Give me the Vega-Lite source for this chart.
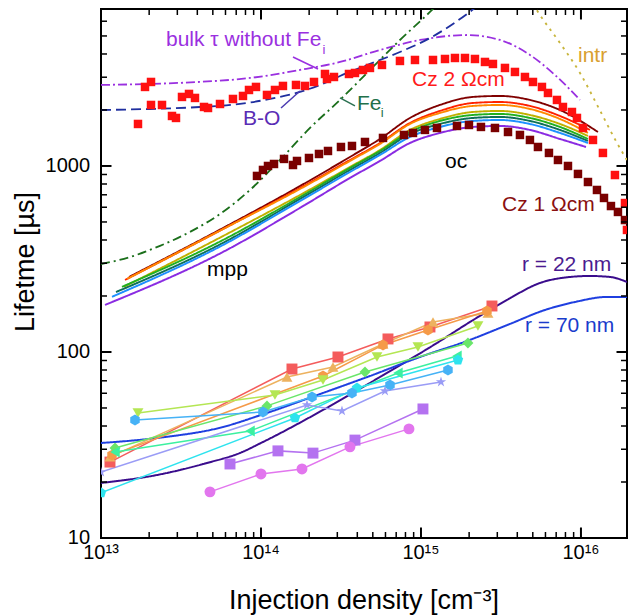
{
"$schema":"https://vega.github.io/schema/vega-lite/v6.json",
"width":526,"height":529,
"autosize":{"type":"none"},
"padding":{"left":101,"top":9,"right":1,"bottom":77},
"background":"white",
"config":{"view":{"stroke":"black","strokeWidth":2},"text":{"font":"Liberation Sans"}},
"datasets":{
"th":[
{"s":"bulk","x":1e13,"y":2726},{"s":"bulk","x":2.02e13,"y":2761},{"s":"bulk","x":4.15e13,"y":2831},{"s":"bulk","x":8.53e13,"y":2972},{"s":"bulk","x":1.75e14,"y":3281},{"s":"bulk","x":3.12e14,"y":3622},{"s":"bulk","x":5.54e14,"y":4203},{"s":"bulk","x":9.86e14,"y":4757},{"s":"bulk","x":1.94e15,"y":5058},{"s":"bulk","x":3.12e15,"y":4757},{"s":"bulk","x":4.8e15,"y":3953},{"s":"bulk","x":6.88e15,"y":3084},{"s":"bulk","x":9.86e15,"y":2265},
{"s":"BO","x":1e13,"y":2000},{"s":"BO","x":2.02e13,"y":2025},{"s":"BO","x":4.15e13,"y":2075},{"s":"BO","x":7.39e13,"y":2155},{"s":"BO","x":1.14e14,"y":2293},{"s":"BO","x":1.75e14,"y":2500},{"s":"BO","x":2.34e14,"y":2726},{"s":"BO","x":3.12e14,"y":3047},{"s":"BO","x":4.8e14,"y":3535},{"s":"BO","x":7.39e14,"y":4100},{"s":"BO","x":1.14e15,"y":4878},{"s":"BO","x":1.94e15,"y":6563},{"s":"BO","x":2.34e15,"y":7430},
{"s":"Fe","x":1e13,"y":297},{"s":"Fe","x":1.518e13,"y":324},{"s":"Fe","x":2.337e13,"y":372},{"s":"Fe","x":3.599e13,"y":442},{"s":"Fe","x":5.543e13,"y":552},{"s":"Fe","x":8.536e13,"y":743},{"s":"Fe","x":1.314e14,"y":1077},{"s":"Fe","x":2.025e14,"y":1601},{"s":"Fe","x":3.117e14,"y":2264},{"s":"Fe","x":4.799e14,"y":3281},{"s":"Fe","x":7.39e14,"y":4757},{"s":"Fe","x":1.138e15,"y":6730},{"s":"Fe","x":1.314e15,"y":7615},
{"s":"intr","x":5.01e15,"y":7430},{"s":"intr","x":5.54e15,"y":6486},{"s":"intr","x":7.39e15,"y":4585},{"s":"intr","x":9.86e15,"y":3162},{"s":"intr","x":1.31e16,"y":2000},{"s":"intr","x":1.68e16,"y":1330},{"s":"intr","x":1.97e16,"y":1051},
{"s":"c1","x":1.496e13,"y":253},{"s":"c1","x":5.79e13,"y":464},{"s":"c1","x":1.753e14,"y":780},{"s":"c1","x":3.599e14,"y":1118},{"s":"c1","x":5.543e14,"y":1397},{"s":"c1","x":8.536e14,"y":1812},{"s":"c1","x":1.314e15,"y":2128},{"s":"c1","x":2.113e15,"y":2350},{"s":"c1","x":3.117e15,"y":2379},{"s":"c1","x":4.799e15,"y":2264},{"s":"c1","x":7.39e15,"y":2000},{"s":"c1","x":1.277e16,"y":1523},
{"s":"c2","x":1.413e13,"y":244},{"s":"c2","x":5.79e13,"y":458},{"s":"c2","x":1.753e14,"y":761},{"s":"c2","x":3.599e14,"y":1077},{"s":"c2","x":5.543e14,"y":1329},{"s":"c2","x":8.536e14,"y":1703},{"s":"c2","x":1.314e15,"y":1976},{"s":"c2","x":2.113e15,"y":2181},{"s":"c2","x":3.117e15,"y":2208},{"s":"c2","x":4.799e15,"y":2102},{"s":"c2","x":7.39e15,"y":1857},{"s":"c2","x":1.138e16,"y":1562},
{"s":"c3","x":1.454e13,"y":247},{"s":"c3","x":5.79e13,"y":458},{"s":"c3","x":1.753e14,"y":752},{"s":"c3","x":3.599e14,"y":1064},{"s":"c3","x":5.543e14,"y":1313},{"s":"c3","x":8.536e14,"y":1682},{"s":"c3","x":1.314e15,"y":1927},{"s":"c3","x":2.113e15,"y":2102},{"s":"c3","x":3.117e15,"y":2128},{"s":"c3","x":4.799e15,"y":2025},{"s":"c3","x":7.39e15,"y":1789},{"s":"c3","x":1.106e16,"y":1505},
{"s":"c4","x":1.393e13,"y":224},{"s":"c4","x":5.79e13,"y":420},{"s":"c4","x":1.753e14,"y":698},{"s":"c4","x":3.599e14,"y":988},{"s":"c4","x":5.543e14,"y":1219},{"s":"c4","x":8.536e14,"y":1562},{"s":"c4","x":1.314e15,"y":1789},{"s":"c4","x":2.113e15,"y":1951},{"s":"c4","x":3.117e15,"y":1976},{"s":"c4","x":4.799e15,"y":1880},{"s":"c4","x":7.39e15,"y":1682},{"s":"c4","x":1.106e16,"y":1450},
{"s":"c5","x":1.353e13,"y":224},{"s":"c5","x":5.79e13,"y":400},{"s":"c5","x":1.753e14,"y":681},{"s":"c5","x":3.599e14,"y":976},{"s":"c5","x":5.543e14,"y":1204},{"s":"c5","x":8.536e14,"y":1523},{"s":"c5","x":1.314e15,"y":1746},{"s":"c5","x":2.113e15,"y":1880},{"s":"c5","x":3.117e15,"y":1904},{"s":"c5","x":4.799e15,"y":1812},{"s":"c5","x":7.39e15,"y":1621},{"s":"c5","x":1.106e16,"y":1397},
{"s":"c6","x":1.241e13,"y":210},{"s":"c6","x":5.79e13,"y":386},{"s":"c6","x":1.753e14,"y":665},{"s":"c6","x":3.599e14,"y":952},{"s":"c6","x":5.543e14,"y":1175},{"s":"c6","x":8.536e14,"y":1486},{"s":"c6","x":1.314e15,"y":1682},{"s":"c6","x":2.113e15,"y":1812},{"s":"c6","x":3.117e15,"y":1834},{"s":"c6","x":4.799e15,"y":1746},{"s":"c6","x":7.39e15,"y":1562},{"s":"c6","x":1.106e16,"y":1363},
{"s":"c7","x":1.172e13,"y":198},{"s":"c7","x":5.79e13,"y":376},{"s":"c7","x":1.753e14,"y":648},{"s":"c7","x":3.599e14,"y":928},{"s":"c7","x":5.543e14,"y":1146},{"s":"c7","x":8.536e14,"y":1432},{"s":"c7","x":1.314e15,"y":1621},{"s":"c7","x":2.113e15,"y":1746},{"s":"c7","x":3.117e15,"y":1767},{"s":"c7","x":4.799e15,"y":1682},{"s":"c7","x":7.39e15,"y":1505},{"s":"c7","x":1.106e16,"y":1329},
{"s":"c8","x":1.059e13,"y":179},{"s":"c8","x":5.79e13,"y":345},{"s":"c8","x":1.753e14,"y":595},{"s":"c8","x":3.599e14,"y":862},{"s":"c8","x":5.543e14,"y":1064},{"s":"c8","x":8.536e14,"y":1329},{"s":"c8","x":1.314e15,"y":1505},{"s":"c8","x":2.113e15,"y":1621},{"s":"c8","x":3.117e15,"y":1641},{"s":"c8","x":4.799e15,"y":1562},{"s":"c8","x":7.39e15,"y":1397},{"s":"c8","x":1.075e16,"y":1265},
{"s":"r22","x":1e13,"y":19.76},{"s":"r22","x":2.239e13,"y":21.81},{"s":"r22","x":4.597e13,"y":25.31},{"s":"r22","x":7.39e13,"y":28.64},{"s":"r22","x":1e14,"y":32.42},{"s":"r22","x":2.441e14,"y":48.78},{"s":"r22","x":5.543e14,"y":73.37},{"s":"r22","x":1.259e15,"y":111.8},{"s":"r22","x":2.025e15,"y":145},{"s":"r22","x":3.447e15,"y":190.4},{"s":"r22","x":5.543e15,"y":234.9},{"s":"r22","x":8.536e15,"y":253.1},{"s":"r22","x":1.138e16,"y":256.2},{"s":"r22","x":1.518e16,"y":253.1},{"s":"r22","x":1.94e16,"y":237.9},
{"s":"r70","x":1e13,"y":32.42},{"s":"r70","x":2.239e13,"y":34.48},{"s":"r70","x":5.79e13,"y":39.52},{"s":"r70","x":1e14,"y":45.85},{"s":"r70","x":2.441e14,"y":60.2},{"s":"r70","x":4.799e14,"y":74.29},{"s":"r70","x":9.859e14,"y":94},{"s":"r70","x":1.939e15,"y":114.6},{"s":"r70","x":3.599e15,"y":141.5},{"s":"r70","x":5.957e15,"y":168.2},{"s":"r70","x":9.173e15,"y":185.7},{"s":"r70","x":1.454e16,"y":197.6},{"s":"r70","x":1.94e16,"y":197.6}
],
"cz":[
{"s":"cz2","x":1.703e13,"y":1682},{"s":"cz2","x":1.884e13,"y":2660},{"s":"cz2","x":2.054e13,"y":2829},{"s":"cz2","x":2.054e13,"y":2128},{"s":"cz2","x":2.406e13,"y":2128},{"s":"cz2","x":2.778e13,"y":1857},{"s":"cz2","x":2.943e13,"y":1812},{"s":"cz2","x":3.208e13,"y":2350},{"s":"cz2","x":3.548e13,"y":2439},{"s":"cz2","x":3.868e13,"y":2321},{"s":"cz2","x":4.404e13,"y":2076},{"s":"cz2","x":4.665e13,"y":2050},{"s":"cz2","x":5.543e13,"y":2154},{"s":"cz2","x":6.683e13,"y":2292},{"s":"cz2","x":7.718e13,"y":2379},{"s":"cz2","x":8.414e13,"y":2562},{"s":"cz2","x":9.306e13,"y":2660},{"s":"cz2","x":1.09e14,"y":2409},{"s":"cz2","x":1.223e14,"y":2562},{"s":"cz2","x":1.372e14,"y":2693},{"s":"cz2","x":1.655e14,"y":2726},{"s":"cz2","x":1.884e14,"y":2693},{"s":"cz2","x":2.144e14,"y":2829},{"s":"cz2","x":2.512e14,"y":3123},{"s":"cz2","x":2.585e14,"y":2935},{"s":"cz2","x":2.859e14,"y":3009},{"s":"cz2","x":3.548e14,"y":3123},{"s":"cz2","x":3.868e14,"y":3162},{"s":"cz2","x":4.341e14,"y":3281},{"s":"cz2","x":4.799e14,"y":3365},{"s":"cz2","x":5.705e14,"y":3492},{"s":"cz2","x":7.39e14,"y":3669},{"s":"cz2","x":9.173e14,"y":3714},{"s":"cz2","x":1.189e15,"y":3714},{"s":"cz2","x":1.413e15,"y":3760},{"s":"cz2","x":1.631e15,"y":3807},{"s":"cz2","x":1.884e15,"y":3807},{"s":"cz2","x":2.175e15,"y":3760},{"s":"cz2","x":2.512e15,"y":3624},{"s":"cz2","x":2.818e15,"y":3535},{"s":"cz2","x":3.35e15,"y":3365},{"s":"cz2","x":3.868e15,"y":3202},{"s":"cz2","x":4.467e15,"y":3009},{"s":"cz2","x":5.012e15,"y":2829},{"s":"cz2","x":5.705e15,"y":2660},{"s":"cz2","x":6.22e15,"y":2469},{"s":"cz2","x":7.079e15,"y":2264},{"s":"cz2","x":7.718e15,"y":2076},{"s":"cz2","x":8.785e15,"y":1951},{"s":"cz2","x":9.441e15,"y":1812},{"s":"cz2","x":1.029e16,"y":1601},{"s":"cz2","x":1.189e16,"y":1380},{"s":"cz2","x":1.372e16,"y":1175},{"s":"cz2","x":1.631e16,"y":894},{"s":"cz2","x":1.884e16,"y":632},{"s":"cz2","x":1.939e16,"y":453},
{"s":"cz1","x":9.441e13,"y":884},{"s":"cz1","x":1.029e14,"y":952},{"s":"cz1","x":1.106e14,"y":1000},{"s":"cz1","x":1.206e14,"y":1025},{"s":"cz1","x":1.393e14,"y":1091},{"s":"cz1","x":1.585e14,"y":1012},{"s":"cz1","x":1.679e14,"y":1064},{"s":"cz1","x":1.995e14,"y":1104},{"s":"cz1","x":2.304e14,"y":1160},{"s":"cz1","x":2.623e14,"y":1204},{"s":"cz1","x":3.162e14,"y":1265},{"s":"cz1","x":3.705e14,"y":1281},{"s":"cz1","x":4.467e14,"y":1346},{"s":"cz1","x":5.788e14,"y":1415},{"s":"cz1","x":7.83e14,"y":1468},{"s":"cz1","x":8.913e14,"y":1505},{"s":"cz1","x":1.059e15,"y":1562},{"s":"cz1","x":1.259e15,"y":1601},{"s":"cz1","x":1.679e15,"y":1641},{"s":"cz1","x":1.995e15,"y":1661},{"s":"cz1","x":2.371e15,"y":1621},{"s":"cz1","x":2.901e15,"y":1601},{"s":"cz1","x":3.499e15,"y":1523},{"s":"cz1","x":4.156e15,"y":1468},{"s":"cz1","x":4.799e15,"y":1380},{"s":"cz1","x":5.385e15,"y":1265},{"s":"cz1","x":6.31e15,"y":1175},{"s":"cz1","x":7.182e15,"y":1077},{"s":"cz1","x":8.296e15,"y":1000},{"s":"cz1","x":9.578e15,"y":906},{"s":"cz1","x":1.106e16,"y":820},{"s":"cz1","x":1.259e16,"y":743},{"s":"cz1","x":1.393e16,"y":673},{"s":"cz1","x":1.54e16,"y":609},{"s":"cz1","x":1.703e16,"y":566},{"s":"cz1","x":1.884e16,"y":512}
],
"ms":[
{"s":"m1","x":1.138e13,"y":25.6},{"s":"m1","x":1.562e14,"y":81},{"s":"m1","x":3.028e14,"y":94},{"s":"m1","x":6.22e14,"y":117.5},{"s":"m1","x":1.138e15,"y":136.3},{"s":"m1","x":2.778e15,"y":176.7},
{"s":"m2","x":1.138e13,"y":27.3},{"s":"m2","x":1.454e14,"y":73.4},{"s":"m2","x":2.818e14,"y":83.1},{"s":"m2","x":5.788e14,"y":110.4},{"s":"m2","x":1.189e15,"y":145},{"s":"m2","x":2.623e15,"y":162},
{"s":"m3","x":1.172e13,"y":27.9},{"s":"m3","x":2.441e14,"y":74.3},{"s":"m3","x":5.788e14,"y":109.1},{"s":"m3","x":1.106e15,"y":131.3},{"s":"m3","x":2.585e15,"y":166.1},
{"s":"m4","x":1.703e13,"y":47},{"s":"m4","x":1.223e14,"y":58.7},{"s":"m4","x":2.441e14,"y":70.7},{"s":"m4","x":5.309e14,"y":94},{"s":"m4","x":9.578e14,"y":106.4},{"s":"m4","x":2.271e15,"y":138},
{"s":"m5","x":1.223e13,"y":30.5},{"s":"m5","x":1.09e14,"y":51.3},{"s":"m5","x":4.467e14,"y":78.1},{"s":"m5","x":1.966e15,"y":111.8},
{"s":"m6","x":1.223e13,"y":29},{"s":"m6","x":8.536e13,"y":37.6},{"s":"m6","x":7.182e14,"y":77.1},{"s":"m6","x":1.679e15,"y":95.2},
{"s":"m7","x":1e13,"y":17.5},{"s":"m7","x":1.631e14,"y":44.2},{"s":"m7","x":3.981e14,"y":64.1},{"s":"m7","x":1.703e15,"y":90.6},
{"s":"m8","x":1.631e13,"y":43.1},{"s":"m8","x":1.029e14,"y":47.6},{"s":"m8","x":2.084e14,"y":57.3},{"s":"m8","x":3.705e14,"y":60.2},{"s":"m8","x":6.401e14,"y":66.5},{"s":"m8","x":1.475e15,"y":80},
{"s":"m9","x":1e13,"y":22.6},{"s":"m9","x":1.939e14,"y":51.9},{"s":"m9","x":3.208e14,"y":48.2},{"s":"m9","x":5.957e14,"y":61.7},{"s":"m9","x":1.334e15,"y":69},
{"s":"m10","x":6.401e13,"y":25},{"s":"m10","x":1.277e14,"y":29.4},{"s":"m10","x":2.113e14,"y":28.6},{"s":"m10","x":3.868e14,"y":33.6},{"s":"m10","x":1.029e15,"y":49.4},
{"s":"m11","x":4.799e13,"y":17.7},{"s":"m11","x":1e14,"y":22.1},{"s":"m11","x":1.804e14,"y":23.5},{"s":"m11","x":3.599e14,"y":30.9},{"s":"m11","x":8.414e14,"y":38.6}
],
"ld":[
{"s":"lbulk","x":1.585e14,"y":3855},{"s":"lbulk","x":2.271e14,"y":3322},
{"s":"lbo","x":1.334e14,"y":2050},{"s":"lbo","x":1.753e14,"y":2531},
{"s":"lfe","x":3.117e14,"y":2321},{"s":"lfe","x":3.868e14,"y":2102}
],
"lb":[
{"t":"bulk τ without Fe","x":2.548e13,"y":4757,"k":"bulk"},
{"t":"B-O","x":7.718e13,"y":1789,"k":"bo"},
{"t":"Fe","x":3.981e14,"y":2154,"k":"fe"},
{"t":"Cz 2 Ωcm","x":8.785e14,"y":2900,"k":"cz2"},
{"t":"intr","x":9.578e15,"y":3903,"k":"intr"},
{"t":"Cz 1 Ωcm","x":3.208e15,"y":617,"k":"cz1"},
{"t":"oc","x":1.413e15,"y":1051,"k":"blk"},
{"t":"mpp","x":4.597e13,"y":276,"k":"blk"},
{"t":"r = 22 nm","x":4.279e15,"y":293.6,"k":"r22"},
{"t":"r = 70 nm","x":4.467e15,"y":138,"k":"r70"}
],
"sub":[
{"t":"i","x":2.42e14,"y":4205,"k":"bulk"},
{"t":"i","x":5.6e14,"y":1927,"k":"fe"}
],
"xlab":[
{"t":"10¹³","x":1e13,"y":8.307},{"t":"10¹⁴","x":1e14,"y":8.307},{"t":"10¹⁵","x":1e15,"y":8.307},{"t":"10¹⁶","x":1e16,"y":8.307}
],
"ylab":[
{"t":"10","x":8.538e12,"y":10},{"t":"100","x":8.538e12,"y":100},{"t":"1000","x":8.538e12,"y":1000}
],
"xtitle":[
{"t":"Injection density  [cm⁻³]","x":4.4e14,"y":4.153}
],
"ytitle":[
{"t":"Lifetme  [µs]","x":3.81e12,"y":304.7}
],
"txM":[
{"x":1e14,"y":10},{"x":1e15,"y":10},{"x":1e16,"y":10},{"x":1e14,"y":6980},{"x":1e15,"y":6980},{"x":1e16,"y":6980}
],
"txm":[
{"x":2e13,"y":10},{"x":3e13,"y":10},{"x":4e13,"y":10},{"x":5e13,"y":10},{"x":6e13,"y":10},{"x":7e13,"y":10},{"x":8e13,"y":10},{"x":9e13,"y":10},
{"x":2e14,"y":10},{"x":3e14,"y":10},{"x":4e14,"y":10},{"x":5e14,"y":10},{"x":6e14,"y":10},{"x":7e14,"y":10},{"x":8e14,"y":10},{"x":9e14,"y":10},
{"x":2e15,"y":10},{"x":3e15,"y":10},{"x":4e15,"y":10},{"x":5e15,"y":10},{"x":6e15,"y":10},{"x":7e15,"y":10},{"x":8e15,"y":10},{"x":9e15,"y":10},
{"x":2e13,"y":6980},{"x":3e13,"y":6980},{"x":4e13,"y":6980},{"x":5e13,"y":6980},{"x":6e13,"y":6980},{"x":7e13,"y":6980},{"x":8e13,"y":6980},{"x":9e13,"y":6980},
{"x":2e14,"y":6980},{"x":3e14,"y":6980},{"x":4e14,"y":6980},{"x":5e14,"y":6980},{"x":6e14,"y":6980},{"x":7e14,"y":6980},{"x":8e14,"y":6980},{"x":9e14,"y":6980},
{"x":2e15,"y":6980},{"x":3e15,"y":6980},{"x":4e15,"y":6980},{"x":5e15,"y":6980},{"x":6e15,"y":6980},{"x":7e15,"y":6980},{"x":8e15,"y":6980},{"x":9e15,"y":6980}
],
"tyM":[
{"x":1e13,"y":100},{"x":1e13,"y":1000},{"x":1.94e16,"y":100},{"x":1.94e16,"y":1000}
],
"tym":[
{"x":1e13,"y":20},{"x":1e13,"y":30},{"x":1e13,"y":40},{"x":1e13,"y":50},{"x":1e13,"y":60},{"x":1e13,"y":70},{"x":1e13,"y":80},{"x":1e13,"y":90},
{"x":1e13,"y":200},{"x":1e13,"y":300},{"x":1e13,"y":400},{"x":1e13,"y":500},{"x":1e13,"y":600},{"x":1e13,"y":700},{"x":1e13,"y":800},{"x":1e13,"y":900},
{"x":1e13,"y":2000},{"x":1e13,"y":3000},{"x":1e13,"y":4000},{"x":1e13,"y":5000},{"x":1e13,"y":6000},
{"x":1.94e16,"y":20},{"x":1.94e16,"y":30},{"x":1.94e16,"y":40},{"x":1.94e16,"y":50},{"x":1.94e16,"y":60},{"x":1.94e16,"y":70},{"x":1.94e16,"y":80},{"x":1.94e16,"y":90},
{"x":1.94e16,"y":200},{"x":1.94e16,"y":300},{"x":1.94e16,"y":400},{"x":1.94e16,"y":500},{"x":1.94e16,"y":600},{"x":1.94e16,"y":700},{"x":1.94e16,"y":800},{"x":1.94e16,"y":900},
{"x":1.94e16,"y":2000},{"x":1.94e16,"y":3000},{"x":1.94e16,"y":4000},{"x":1.94e16,"y":5000},{"x":1.94e16,"y":6000}
]
},
"layer":[
{"data":{"name":"th"},
 "mark":{"type":"line","interpolate":"monotone","clip":true},
 "encoding":{
  "x":{"field":"x","type":"quantitative","scale":{"type":"log","domain":[1e13,1.94e16],"nice":false},"axis":null},
  "y":{"field":"y","type":"quantitative","scale":{"type":"log","domain":[10,6980],"nice":false},"axis":null},
  "color":{"field":"s","type":"nominal","legend":null,"scale":{"domain":["bulk","BO","Fe","intr","c1","c2","c3","c4","c5","c6","c7","c8","r22","r70"],"range":["#9a30e0","#1f2f9f","#1b6f1b","#c8b53c","#800000","#ff2200","#ff8800","#c0b000","#20b020","#0e7058","#1e90ff","#8a2be2","#3a0c8c","#1f3fe0"]}},
  "strokeDash":{"field":"s","type":"nominal","legend":null,"scale":{"domain":["bulk","BO","Fe","intr","c1","c2","c3","c4","c5","c6","c7","c8","r22","r70"],"range":[[9,3,2,3],[10,5],[9,4,2,4],[2.5,5],[1,0],[1,0],[1,0],[1,0],[1,0],[1,0],[1,0],[1,0],[1,0],[1,0]]}},
  "strokeWidth":{"field":"s","type":"nominal","legend":null,"scale":{"domain":["bulk","BO","Fe","intr","c1","c2","c3","c4","c5","c6","c7","c8","r22","r70"],"range":[1.8,2,2,2.6,2,2,2,2,2,2,2,2,2,2]}}
 }},
{"data":{"name":"cz"},
 "mark":{"type":"square","size":72,"opacity":1,"clip":true},
 "encoding":{
  "x":{"field":"x","type":"quantitative","scale":{"type":"log","domain":[1e13,1.94e16],"nice":false},"axis":null},
  "y":{"field":"y","type":"quantitative","scale":{"type":"log","domain":[10,6980],"nice":false},"axis":null},
  "color":{"field":"s","type":"nominal","legend":null,"scale":{"domain":["cz2","cz1"],"range":["#ff1010","#7a0000"]}}
 }},
{"data":{"name":"ms"},
 "mark":{"type":"line","strokeWidth":1.5,"clip":true},
 "encoding":{
  "x":{"field":"x","type":"quantitative","scale":{"type":"log","domain":[1e13,1.94e16],"nice":false},"axis":null},
  "y":{"field":"y","type":"quantitative","scale":{"type":"log","domain":[10,6980],"nice":false},"axis":null},
  "color":{"field":"s","type":"nominal","legend":null,"scale":{"domain":["m1","m2","m3","m4","m5","m6","m7","m8","m9","m10","m11"],"range":["#f45c5c","#edb25f","#f59a48","#b4e653","#6ae66a","#3cf0a0","#2ee3ee","#46b2f6","#9a9cf6","#b472f0","#e276ee"]}}
 }},
{"data":{"name":"ms"},
 "mark":{"type":"point","filled":true,"opacity":1,"size":120,"clip":true},
 "encoding":{
  "x":{"field":"x","type":"quantitative","scale":{"type":"log","domain":[1e13,1.94e16],"nice":false},"axis":null},
  "y":{"field":"y","type":"quantitative","scale":{"type":"log","domain":[10,6980],"nice":false},"axis":null},
  "color":{"field":"s","type":"nominal","legend":null,"scale":{"domain":["m1","m2","m3","m4","m5","m6","m7","m8","m9","m10","m11"],"range":["#f45c5c","#edb25f","#f59a48","#b4e653","#6ae66a","#3cf0a0","#2ee3ee","#46b2f6","#9a9cf6","#b472f0","#e276ee"]}},
  "shape":{"field":"s","type":"nominal","legend":null,"scale":{"domain":["m1","m2","m3","m4","m5","m6","m7","m8","m9","m10","m11"],"range":["square","triangle-up","M0,-1L0.866,-0.5L0.866,0.5L0,1L-0.866,0.5L-0.866,-0.5Z","triangle-down","diamond","triangle-left","M0,-1L0.951,-0.309L0.588,0.809L-0.588,0.809L-0.951,-0.309Z","M0,-1L0.866,-0.5L0.866,0.5L0,1L-0.866,0.5L-0.866,-0.5Z","M0,-1L0.2245,-0.309L0.951,-0.309L0.363,0.118L0.588,0.809L0,0.382L-0.588,0.809L-0.363,0.118L-0.951,-0.309L-0.2245,-0.309Z","square","circle"]}}
 }},
{"data":{"name":"ld"},
 "mark":{"type":"line","strokeWidth":1.5},
 "encoding":{
  "x":{"field":"x","type":"quantitative","scale":{"type":"log","domain":[1e13,1.94e16],"nice":false},"axis":null},
  "y":{"field":"y","type":"quantitative","scale":{"type":"log","domain":[10,6980],"nice":false},"axis":null},
  "color":{"field":"s","type":"nominal","legend":null,"scale":{"domain":["lbulk","lbo","lfe"],"range":["#9a30e0","#4a3ab0","#2a7050"]}}
 }},
{"data":{"name":"txM"},
 "mark":{"type":"tick","orient":"vertical","size":21,"thickness":2,"color":"black","opacity":1,"clip":true},
 "encoding":{
  "x":{"field":"x","type":"quantitative","scale":{"type":"log","domain":[1e13,1.94e16],"nice":false},"axis":null},
  "y":{"field":"y","type":"quantitative","scale":{"type":"log","domain":[10,6980],"nice":false},"axis":null}
 }},
{"data":{"name":"txm"},
 "mark":{"type":"tick","orient":"vertical","size":12,"thickness":1.5,"color":"black","opacity":1,"clip":true},
 "encoding":{
  "x":{"field":"x","type":"quantitative","scale":{"type":"log","domain":[1e13,1.94e16],"nice":false},"axis":null},
  "y":{"field":"y","type":"quantitative","scale":{"type":"log","domain":[10,6980],"nice":false},"axis":null}
 }},
{"data":{"name":"tyM"},
 "mark":{"type":"tick","orient":"horizontal","size":21,"thickness":2,"color":"black","opacity":1,"clip":true},
 "encoding":{
  "x":{"field":"x","type":"quantitative","scale":{"type":"log","domain":[1e13,1.94e16],"nice":false},"axis":null},
  "y":{"field":"y","type":"quantitative","scale":{"type":"log","domain":[10,6980],"nice":false},"axis":null}
 }},
{"data":{"name":"tym"},
 "mark":{"type":"tick","orient":"horizontal","size":12,"thickness":1.5,"color":"black","opacity":1,"clip":true},
 "encoding":{
  "x":{"field":"x","type":"quantitative","scale":{"type":"log","domain":[1e13,1.94e16],"nice":false},"axis":null},
  "y":{"field":"y","type":"quantitative","scale":{"type":"log","domain":[10,6980],"nice":false},"axis":null}
 }},
{"data":{"name":"lb"},
 "mark":{"type":"text","align":"left","baseline":"middle","fontSize":21,"font":"Liberation Sans"},
 "encoding":{
  "x":{"field":"x","type":"quantitative","scale":{"type":"log","domain":[1e13,1.94e16],"nice":false},"axis":null},
  "y":{"field":"y","type":"quantitative","scale":{"type":"log","domain":[10,6980],"nice":false},"axis":null},
  "text":{"field":"t"},
  "color":{"field":"k","type":"nominal","legend":null,"scale":{"domain":["bulk","bo","fe","cz2","intr","cz1","blk","r22","r70"],"range":["#9a30e0","#5a2cb5","#22704a","#ff1a1a","#d9a030","#8a1010","#000000","#4a1a90","#1a3ccc"]}}
 }},
{"data":{"name":"sub"},
 "mark":{"type":"text","align":"left","baseline":"middle","fontSize":13,"font":"Liberation Sans"},
 "encoding":{
  "x":{"field":"x","type":"quantitative","scale":{"type":"log","domain":[1e13,1.94e16],"nice":false},"axis":null},
  "y":{"field":"y","type":"quantitative","scale":{"type":"log","domain":[10,6980],"nice":false},"axis":null},
  "text":{"field":"t"},
  "color":{"field":"k","type":"nominal","legend":null,"scale":{"domain":["bulk","fe"],"range":["#9a30e0","#22704a"]}}
 }},
{"data":{"name":"xlab"},
 "mark":{"type":"text","align":"center","baseline":"middle","fontSize":20,"font":"Liberation Sans","color":"black"},
 "encoding":{
  "x":{"field":"x","type":"quantitative","scale":{"type":"log","domain":[1e13,1.94e16],"nice":false},"axis":null},
  "y":{"field":"y","type":"quantitative","scale":{"type":"log","domain":[10,6980],"nice":false},"axis":null},
  "text":{"field":"t"}
 }},
{"data":{"name":"ylab"},
 "mark":{"type":"text","align":"right","baseline":"middle","fontSize":20,"font":"Liberation Sans","color":"black"},
 "encoding":{
  "x":{"field":"x","type":"quantitative","scale":{"type":"log","domain":[1e13,1.94e16],"nice":false},"axis":null},
  "y":{"field":"y","type":"quantitative","scale":{"type":"log","domain":[10,6980],"nice":false},"axis":null},
  "text":{"field":"t"}
 }},
{"data":{"name":"xtitle"},
 "mark":{"type":"text","align":"center","baseline":"alphabetic","fontSize":27,"font":"Liberation Sans","color":"black"},
 "encoding":{
  "x":{"field":"x","type":"quantitative","scale":{"type":"log","domain":[1e13,1.94e16],"nice":false},"axis":null},
  "y":{"field":"y","type":"quantitative","scale":{"type":"log","domain":[10,6980],"nice":false},"axis":null},
  "text":{"field":"t"}
 }},
{"data":{"name":"ytitle"},
 "mark":{"type":"text","align":"center","baseline":"alphabetic","angle":270,"fontSize":27,"font":"Liberation Sans","color":"black"},
 "encoding":{
  "x":{"field":"x","type":"quantitative","scale":{"type":"log","domain":[1e13,1.94e16],"nice":false},"axis":null},
  "y":{"field":"y","type":"quantitative","scale":{"type":"log","domain":[10,6980],"nice":false},"axis":null},
  "text":{"field":"t"}
 }}
],
"resolve":{"scale":{"color":"independent","shape":"independent","strokeDash":"independent","strokeWidth":"independent"}}
}
